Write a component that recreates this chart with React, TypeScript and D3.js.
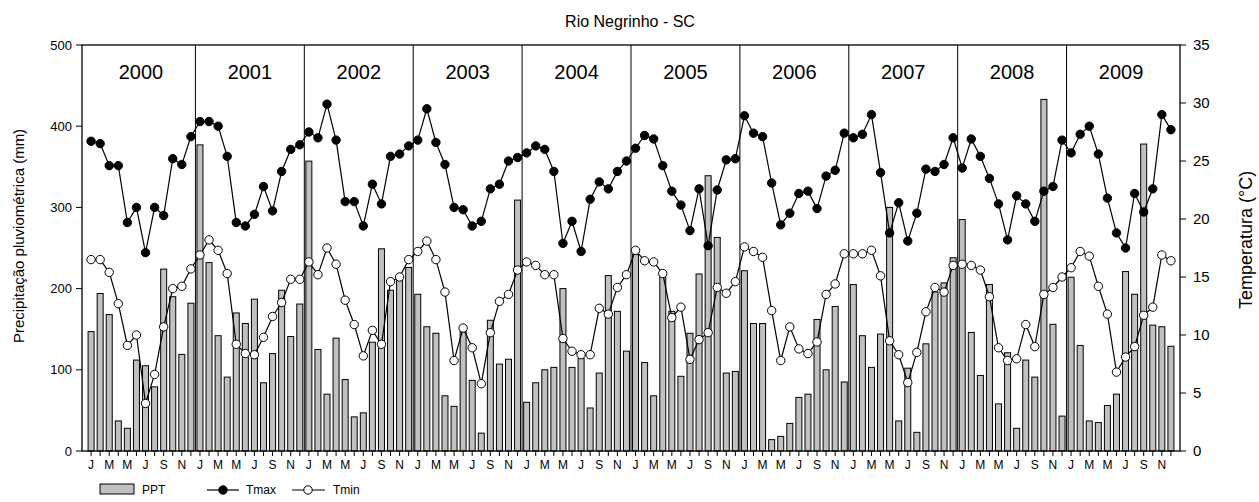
import React from "react";
import * as d3 from "d3";

// Monthly precipitation (mm), Jan 2000 – Dec 2009
const ppt2000 = [147, 194, 168, 37, 28, 112, 105, 79, 224, 190, 119, 182];
const ppt2001 = [377, 232, 142, 91, 170, 157, 187, 84, 120, 198, 141, 181];
const ppt2002 = [357, 125, 70, 139, 88, 42, 47, 134, 249, 198, 210, 226];
const ppt2003 = [193, 153, 145, 68, 55, 147, 87, 22, 161, 107, 113, 309];
const ppt2004 = [60, 84, 100, 103, 200, 103, 114, 53, 96, 216, 172, 123];
const ppt2005 = [242, 109, 68, 222, 172, 92, 145, 218, 339, 263, 96, 98];
const ppt2006 = [222, 157, 157, 14, 18, 34, 66, 70, 162, 100, 178, 85];
const ppt2007 = [205, 142, 103, 144, 300, 37, 102, 23, 132, 196, 207, 238];
const ppt2008 = [285, 146, 93, 205, 58, 121, 28, 112, 91, 433, 156, 43];
const ppt2009 = [214, 130, 37, 35, 56, 70, 221, 193, 378, 155, 153, 129];

// Monthly mean maximum temperature (°C)
const tmax2000 = [26.7, 26.5, 24.6, 24.6, 19.7, 21.0, 17.1, 21.0, 20.3, 25.2, 24.7, 27.1];
const tmax2001 = [28.4, 28.4, 28.0, 25.4, 19.7, 19.4, 20.4, 22.8, 20.7, 24.1, 26.0, 26.4];
const tmax2002 = [27.5, 27.0, 29.9, 26.8, 21.5, 21.5, 19.4, 23.0, 21.3, 25.4, 25.6, 26.3];
const tmax2003 = [26.8, 29.5, 26.6, 24.7, 21.0, 20.8, 19.4, 19.8, 22.6, 23.0, 25.0, 25.3];
const tmax2004 = [25.7, 26.3, 26.0, 24.1, 17.9, 19.8, 17.2, 21.7, 23.2, 22.6, 24.1, 25.0];
const tmax2005 = [26.1, 27.2, 26.9, 24.6, 22.4, 21.2, 19.0, 22.6, 17.7, 22.5, 25.1, 25.2];
const tmax2006 = [28.9, 27.4, 27.1, 23.1, 19.5, 20.5, 22.2, 22.4, 20.9, 23.7, 24.2, 27.4];
const tmax2007 = [27.0, 27.3, 29.0, 24.0, 18.8, 21.4, 18.1, 20.5, 24.3, 24.1, 24.7, 27.0];
const tmax2008 = [24.4, 26.9, 25.4, 23.5, 21.3, 18.2, 22.0, 21.3, 19.8, 22.4, 22.8, 26.8];
const tmax2009 = [25.7, 27.3, 28.0, 25.6, 21.8, 18.8, 17.5, 22.2, 20.6, 22.6, 29.0, 27.7];

// Monthly mean minimum temperature (°C)
const tmin2000 = [16.5, 16.5, 15.4, 12.7, 9.1, 10.0, 4.1, 6.6, 10.7, 14.0, 14.2, 15.7];
const tmin2001 = [16.9, 18.2, 17.3, 15.3, 9.2, 8.4, 8.3, 9.8, 11.6, 12.8, 14.8, 14.8];
const tmin2002 = [16.3, 15.2, 17.5, 16.1, 13.0, 10.9, 8.2, 10.4, 9.2, 14.6, 15.0, 16.5];
const tmin2003 = [17.2, 18.1, 16.5, 13.7, 7.8, 10.6, 8.9, 5.8, 10.2, 12.9, 13.5, 15.6];
const tmin2004 = [16.3, 16.0, 15.2, 15.2, 9.7, 8.6, 8.3, 8.3, 12.3, 11.8, 14.1, 15.2];
const tmin2005 = [17.3, 16.4, 16.3, 15.3, 11.5, 12.4, 7.9, 9.6, 10.2, 14.1, 13.6, 14.6];
const tmin2006 = [17.6, 17.2, 16.7, 12.1, 7.8, 10.7, 8.8, 8.4, 9.4, 13.5, 14.4, 17.0];
const tmin2007 = [17.0, 17.0, 17.3, 15.1, 9.5, 8.3, 5.9, 8.5, 12.0, 14.1, 13.7, 16.0];
const tmin2008 = [16.1, 16.0, 15.6, 13.3, 8.9, 7.8, 7.95, 10.9, 9.0, 13.5, 14.1, 15.0];
const tmin2009 = [15.8, 17.2, 16.8, 14.2, 11.8, 6.8, 8.1, 9.0, 11.7, 12.4, 16.9, 16.4];

const years = ["2000", "2001", "2002", "2003", "2004", "2005", "2006", "2007", "2008", "2009"];
const monthLabels = ["J", "", "M", "", "M", "", "J", "", "S", "", "N", ""];
const pptTicks = [0, 100, 200, 300, 400, 500];
const tempTicks = [0, 5, 10, 15, 20, 25, 30, 35];

const ppt = [ppt2000, ppt2001, ppt2002, ppt2003, ppt2004, ppt2005, ppt2006, ppt2007, ppt2008, ppt2009].flat();
const tmax = [tmax2000, tmax2001, tmax2002, tmax2003, tmax2004, tmax2005, tmax2006, tmax2007, tmax2008, tmax2009].flat();
const tmin = [tmin2000, tmin2001, tmin2002, tmin2003, tmin2004, tmin2005, tmin2006, tmin2007, tmin2008, tmin2009].flat();

const W = 1259;
const H = 502;
const left = 82;
const right = 1180;
const top = 45;
const bottom = 451;
const font = "'Liberation Sans', Arial, sans-serif";

export default function App() {
  const months = d3.range(1, ppt.length + 1);
  const x = d3.scaleLinear().domain([0, 121]).range([left, right]);
  const yP = d3.scaleLinear().domain([0, 500]).range([bottom, top]);
  const yT = d3.scaleLinear().domain([0, 35]).range([bottom, top]);
  const barW = 6;
  const r = 4.2;

  const lineMax = d3.line<number>().x((_, i) => x(i + 1)).y((d) => yT(d))(tmax) || "";
  const lineMin = d3.line<number>().x((_, i) => x(i + 1)).y((d) => yT(d))(tmin) || "";

  return (
    <svg
      width={W}
      height={H}
      style={{ position: "absolute", left: 0, top: 0, background: "#fff" }}
      fontFamily={font}
    >
      <rect x={0} y={0} width={W} height={H} fill="#fff" />
      <text x={630} y={27} textAnchor="middle" fontSize={16}>
        Rio Negrinho - SC
      </text>

      {/* precipitation bars */}
      {months.map((m, i) => (
        <rect
          key={"b" + m}
          x={x(m) - barW / 2}
          y={yP(ppt[i])}
          width={barW}
          height={bottom - yP(ppt[i])}
          fill="#c0c0c0"
          stroke="#000"
          strokeWidth={1}
        />
      ))}

      {/* year separators */}
      {years.slice(1).map((yr, k) => (
        <line
          key={"sep" + yr}
          x1={x(12.5 + 12 * k)}
          x2={x(12.5 + 12 * k)}
          y1={top}
          y2={bottom}
          stroke="#000"
          strokeWidth={1}
        />
      ))}
      {years.map((yr, k) => (
        <text
          key={"yl" + yr}
          x={x(6.5 + 12 * k)}
          y={79}
          textAnchor="middle"
          fontSize={20}
        >
          {yr}
        </text>
      ))}

      {/* temperature lines */}
      <path d={lineMax} fill="none" stroke="#000" strokeWidth={1.2} />
      <path d={lineMin} fill="none" stroke="#000" strokeWidth={1.2} />
      {months.map((m, i) => (
        <circle key={"mx" + m} cx={x(m)} cy={yT(tmax[i])} r={r} fill="#000" stroke="#000" />
      ))}
      {months.map((m, i) => (
        <circle key={"mn" + m} cx={x(m)} cy={yT(tmin[i])} r={r} fill="#fff" stroke="#000" />
      ))}

      {/* frame */}
      <rect x={left} y={top} width={right - left} height={bottom - top} fill="none" stroke="#000" strokeWidth={1.3} />

      {/* left axis */}
      {pptTicks.map((t) => (
        <g key={"pt" + t}>
          <line x1={left - 6} x2={left} y1={yP(t)} y2={yP(t)} stroke="#000" />
          <text x={left - 10} y={yP(t) + 4.5} textAnchor="end" fontSize={13}>
            {t}
          </text>
        </g>
      ))}
      <text
        transform={`translate(24,${(top + bottom) / 2 - 12}) rotate(-90)`}
        textAnchor="middle"
        fontSize={15}
      >
        Precipitação pluviométrica (mm)
      </text>

      {/* right axis */}
      {tempTicks.map((t) => (
        <g key={"tt" + t}>
          <line x1={right} x2={right + 6} y1={yT(t)} y2={yT(t)} stroke="#000" />
          <text x={right + 13} y={yT(t) + 5} textAnchor="start" fontSize={15}>
            {t}
          </text>
        </g>
      ))}
      <text
        transform={`translate(1252,${(top + bottom) / 2 - 8}) rotate(-90)`}
        textAnchor="middle"
        fontSize={18}
      >
        Temperatura (°C)
      </text>

      {/* bottom axis */}
      {months.map((m, i) => (
        <g key={"xt" + m}>
          <line x1={x(m)} x2={x(m)} y1={bottom} y2={bottom + 5} stroke="#000" />
          <text x={x(m)} y={bottom + 18} textAnchor="middle" fontSize={12}>
            {monthLabels[i % 12]}
          </text>
        </g>
      ))}

      {/* legend */}
      <rect x={100} y={484} width={34} height={10} fill="#c0c0c0" stroke="#000" />
      <text x={142} y={494} fontSize={12}>PPT</text>
      <line x1={207} x2={239} y1={490} y2={490} stroke="#000" strokeWidth={1.2} />
      <circle cx={223} cy={490} r={r} fill="#000" stroke="#000" />
      <text x={246} y={494} fontSize={12}>Tmax</text>
      <line x1={292} x2={325} y1={490} y2={490} stroke="#000" strokeWidth={1.2} />
      <circle cx={308} cy={490} r={r} fill="#fff" stroke="#000" />
      <text x={333} y={494} fontSize={12}>Tmin</text>
    </svg>
  );
}
